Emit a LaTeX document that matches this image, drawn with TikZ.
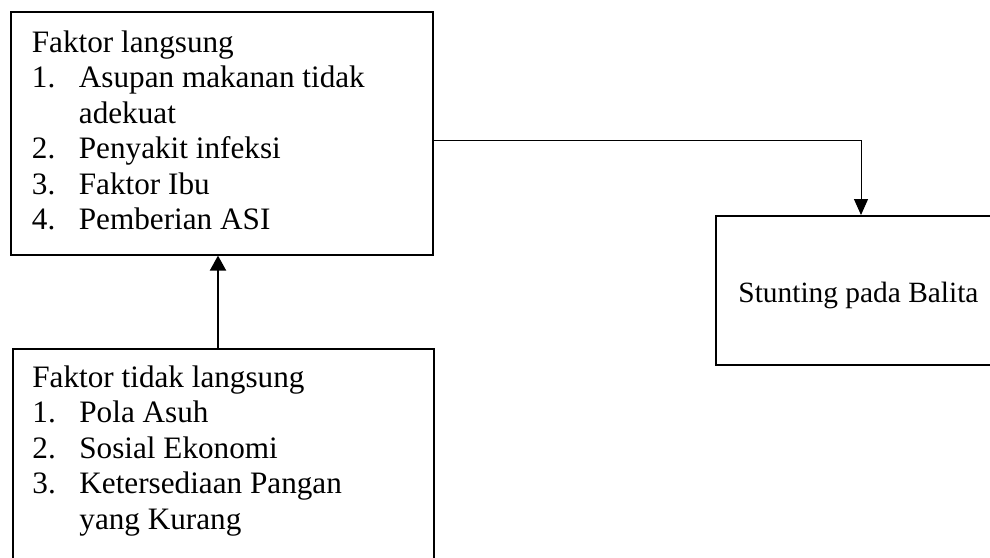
\documentclass[tikz,border=0pt]{standalone}
\usepackage{fontspec}
\setmainfont{Liberation Serif}
\usetikzlibrary{arrows.meta}
\begin{document}
\begin{tikzpicture}[x=0.5pt,y=-0.5pt,
  boxstyle/.style={draw=black,line width=0.8pt,inner sep=0pt,anchor=north west},
  txt/.style={inner sep=0pt,anchor=base west,font=\fontsize{15.6}{17.8}\selectfont},
  thinarrow/.style={line width=0.5pt,-{Triangle[length=8pt,width=7pt]}},
  thickarrow/.style={line width=1pt,-{Triangle[length=7.5pt,width=8pt]}}]
\useasboundingbox[fill=white] (0,0) rectangle (990,557);
\node[boxstyle,minimum width=211pt,minimum height=121.5pt] (b1) at (10,11) {};
\node[boxstyle,minimum width=210.5pt,minimum height=108pt] (b2) at (12,348) {};
\node[boxstyle,minimum width=146pt,minimum height=74.5pt] (b3) at (715,215) {};
\node[txt] (t1) at (31.5,52) {\begin{tabular}[t]{@{}p{23.5pt}@{}l@{}}
\multicolumn{2}{@{}l@{}}{Faktor langsung}\\
1. & Asupan makanan tidak\\
   & adekuat\\
2. & Penyakit infeksi\\
3. & Faktor Ibu\\
4. & Pemberian ASI
\end{tabular}};
\node[txt] (t2) at (32,387) {\begin{tabular}[t]{@{}p{23.5pt}@{}l@{}}
\multicolumn{2}{@{}l@{}}{Faktor tidak langsung}\\
1. & Pola Asuh\\
2. & Sosial Ekonomi\\
3. & Ketersediaan Pangan\\
   & yang Kurang
\end{tabular}};
\node[txt,font=\fontsize{14.7}{17}\selectfont] (t3) at (738,302) {Stunting pada Balita};
\coordinate (turn) at (861,140);
\coordinate (up) at (218,300);
\draw[thinarrow] (b1.east |- turn) -- (turn) -- (b3.north -| turn);
\draw[thickarrow] (b2.north -| up) -- (b1.south -| up);
\end{tikzpicture}
\end{document}
